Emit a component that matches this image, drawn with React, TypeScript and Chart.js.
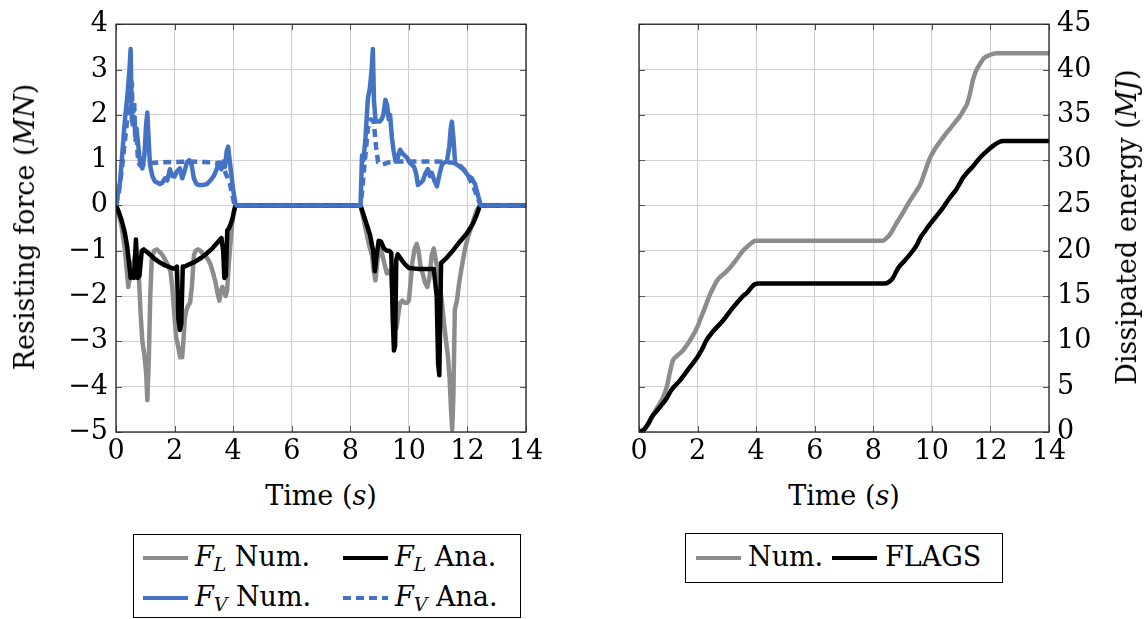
import React, { useEffect, useRef } from "react";
import { Chart, registerables } from "chart.js";

Chart.register(...registerables);

const FONT = "'DejaVu Serif', 'Liberation Serif', serif";
const FS = 27;
const GRAY = "#8c8c8c";
const BLUE = "#4472c4";
const BLACK = "#000000";

const xTicksTime = [0, 2, 4, 6, 8, 10, 12, 14];
const yTicksForce = [-5, -4, -3, -2, -1, 0, 1, 2, 3, 4];
const yTicksEnergy = [0, 5, 10, 15, 20, 25, 30, 35, 40, 45];

const fLNum: [number, number][] = [
  [0, 0], [0.1, -0.2], [0.2, -0.5], [0.3, -0.95], [0.37, -1.45], [0.42, -1.8], [0.48, -1.55],
  [0.54, -1.3], [0.6, -1.25], [0.65, -1.1], [0.72, -1.35], [0.78, -1.55], [0.84, -2.4], [0.9, -3.0],
  [0.97, -3.3], [1.03, -3.7], [1.07, -4.3], [1.12, -3.4], [1.17, -2.0], [1.22, -1.2], [1.3, -1.0],
  [1.39, -0.97], [1.48, -1.02], [1.57, -1.08], [1.68, -1.2], [1.78, -1.32], [1.86, -1.45], [1.92, -1.8],
  [1.98, -2.3], [2.05, -2.9], [2.12, -3.1], [2.19, -3.35], [2.26, -3.35], [2.3, -3.0], [2.35, -2.5],
  [2.41, -2.3], [2.47, -2.2], [2.53, -2.15], [2.59, -1.8], [2.66, -1.1], [2.72, -1.0], [2.8, -0.97],
  [2.88, -1.0], [2.97, -1.07], [3.06, -1.12], [3.15, -1.2], [3.24, -1.32], [3.32, -1.5], [3.4, -1.7],
  [3.47, -1.95], [3.53, -2.1], [3.58, -1.9], [3.63, -1.8], [3.68, -1.85], [3.74, -2.0], [3.79, -1.9],
  [3.85, -1.3], [3.9, -0.9], [3.96, -0.45], [4.02, -0.15], [4.08, 0],
  [8.35, 0], [8.45, -0.3], [8.55, -0.6], [8.65, -0.9], [8.74, -1.1], [8.8, -1.45], [8.86, -1.65],
  [8.93, -1.2], [9.0, -0.93], [9.08, -1.05], [9.17, -1.3], [9.25, -1.5], [9.33, -1.45], [9.4, -1.55],
  [9.46, -2.2], [9.52, -2.75], [9.58, -2.7], [9.64, -2.4], [9.7, -2.15], [9.78, -2.1], [9.86, -2.15],
  [9.94, -2.15], [10.0, -2.1], [10.06, -1.7], [10.12, -1.25], [10.2, -0.95], [10.27, -0.85],
  [10.33, -1.0], [10.4, -1.35], [10.47, -1.5], [10.55, -1.7], [10.63, -1.8], [10.7, -1.6], [10.78, -1.1],
  [10.85, -0.95], [10.92, -1.2], [11.0, -1.5], [11.07, -1.8], [11.14, -2.2], [11.2, -2.6], [11.27, -3.0],
  [11.33, -3.3], [11.39, -3.8], [11.44, -4.5], [11.48, -4.95], [11.52, -4.2], [11.57, -2.3], [11.64, -2.1],
  [11.72, -1.7], [11.82, -1.3], [11.92, -0.95], [12.02, -0.7], [12.12, -0.5], [12.22, -0.3], [12.32, -0.1],
  [12.4, -0.03], [12.46, 0], [14, 0],
];

const fLAna: [number, number][] = [
  [0, 0], [0.1, -0.15], [0.2, -0.35], [0.3, -0.6], [0.38, -0.9], [0.45, -1.3], [0.5, -1.6], [0.56, -1.45],
  [0.62, -1.6], [0.68, -0.75], [0.74, -1.6], [0.8, -1.55], [0.88, -1.0], [0.95, -0.97], [1.1, -1.05],
  [1.3, -1.17], [1.5, -1.26], [1.7, -1.33], [1.9, -1.38], [2.02, -1.4], [2.08, -1.35], [2.13, -2.5],
  [2.18, -2.75], [2.23, -2.6], [2.28, -1.35], [2.35, -1.35], [2.5, -1.3], [2.7, -1.24], [2.9, -1.16],
  [3.1, -1.06], [3.3, -0.94], [3.45, -0.83], [3.6, -0.72], [3.66, -1.0], [3.7, -1.6], [3.75, -1.55],
  [3.8, -0.55], [3.86, -0.5], [3.92, -0.4], [3.98, -0.28], [4.04, -0.1], [4.08, 0],
  [8.35, 0], [8.5, -0.3], [8.67, -0.64], [8.78, -1.0], [8.84, -1.45], [8.9, -1.1], [8.97, -0.78],
  [9.05, -0.8], [9.15, -0.95], [9.25, -1.0], [9.33, -1.0], [9.4, -1.05], [9.45, -2.5], [9.49, -3.2],
  [9.53, -3.1], [9.57, -1.2], [9.62, -1.08], [9.75, -1.2], [9.87, -1.3], [10.0, -1.38], [10.3, -1.4],
  [10.6, -1.4], [10.85, -1.4], [10.95, -2.0], [11.0, -3.5], [11.04, -3.75], [11.07, -2.5], [11.1, -1.27],
  [11.3, -1.15], [11.5, -1.0], [11.74, -0.8], [11.98, -0.62], [12.19, -0.4], [12.32, -0.2], [12.43, 0],
  [14, 0],
];

const fVNum: [number, number][] = [
  [0, 0], [0.14, 0.53], [0.3, 1.85], [0.4, 2.5], [0.46, 3.0], [0.5, 3.45], [0.54, 1.9], [0.58, 1.8],
  [0.62, 1.95], [0.66, 1.6], [0.7, 1.7], [0.74, 1.45], [0.78, 1.2], [0.83, 0.9], [0.9, 0.82], [0.97, 1.1],
  [1.03, 1.8], [1.07, 2.05], [1.11, 1.5], [1.16, 0.9], [1.24, 0.65], [1.33, 0.53], [1.42, 0.5], [1.5, 0.47],
  [1.58, 0.5], [1.67, 0.6], [1.75, 0.55], [1.84, 0.8], [1.92, 0.65], [2.0, 0.64], [2.08, 0.75], [2.18, 0.82],
  [2.26, 0.6], [2.34, 0.75], [2.42, 0.95], [2.5, 1.0], [2.58, 0.9], [2.66, 0.6], [2.74, 0.48], [2.82, 0.45],
  [2.95, 0.45], [3.1, 0.47], [3.22, 0.55], [3.34, 0.65], [3.44, 0.8], [3.52, 0.95], [3.6, 0.8], [3.66, 0.97],
  [3.72, 0.85], [3.78, 1.2], [3.83, 1.3], [3.88, 1.0], [3.94, 0.68], [4.0, 0.35], [4.08, 0.03], [4.12, 0],
  [8.35, 0], [8.4, 1.1], [8.45, 1.0], [8.52, 1.5], [8.6, 2.35], [8.67, 2.6], [8.73, 3.0], [8.77, 3.45],
  [8.81, 2.3], [8.86, 1.9], [8.92, 1.85], [9.0, 1.85], [9.07, 1.9], [9.13, 2.0], [9.2, 2.33], [9.26, 2.2],
  [9.31, 1.9], [9.36, 2.0], [9.42, 1.5], [9.48, 1.2], [9.55, 0.97], [9.62, 1.05], [9.7, 1.23], [9.78, 1.15],
  [9.86, 1.1], [9.94, 1.05], [10.02, 0.95], [10.1, 0.9], [10.18, 0.85], [10.25, 0.7], [10.31, 0.45],
  [10.4, 0.5], [10.48, 0.55], [10.56, 0.7], [10.65, 0.8], [10.72, 0.65], [10.78, 0.72], [10.87, 0.55],
  [10.96, 0.42], [11.05, 0.7], [11.13, 0.9], [11.22, 0.95], [11.3, 0.97], [11.38, 1.3], [11.43, 1.7],
  [11.47, 1.85], [11.52, 1.5], [11.58, 0.93], [11.64, 0.9], [11.75, 0.85], [11.85, 0.8], [11.95, 0.72],
  [12.05, 0.64], [12.15, 0.6], [12.26, 0.47], [12.35, 0.25], [12.44, 0.03], [12.48, 0], [14, 0],
];

const fVAna: [number, number][] = [
  [0, 0], [0.1, 0.3], [0.2, 0.8], [0.3, 1.4], [0.4, 2.0], [0.46, 2.5], [0.5, 2.1], [0.54, 2.7],
  [0.58, 1.7], [0.62, 2.3], [0.66, 1.4], [0.7, 1.6], [0.75, 1.0], [0.8, 0.9], [0.9, 0.9], [1.0, 0.92],
  [1.5, 0.95], [2.0, 0.96], [2.5, 0.97], [3.0, 0.96], [3.3, 0.95], [3.5, 0.92], [3.6, 0.87],
  [3.7, 0.77], [3.8, 0.63], [3.9, 0.45], [3.97, 0.25], [4.05, 0], [8.35, 0],
  [8.4, 0.3], [8.5, 1.0], [8.6, 1.7], [8.7, 1.9], [8.8, 1.85], [8.88, 1.3], [8.95, 0.95], [9.1, 0.9],
  [9.3, 0.95], [9.6, 0.97], [10.0, 0.97], [10.5, 0.97], [11.0, 0.97], [11.4, 0.95], [11.6, 0.93],
  [11.75, 0.88], [11.9, 0.78], [12.05, 0.62], [12.2, 0.42], [12.32, 0.22], [12.45, 0], [14, 0],
];

const energyNum: [number, number][] = [
  [0, 0], [0.2, 0.4], [0.37, 1.3], [0.55, 2.3], [0.7, 3.1], [0.82, 3.8], [0.95, 5.0], [1.05, 6.5],
  [1.16, 7.9], [1.3, 8.4], [1.5, 9.0], [1.7, 9.9], [1.98, 11.5], [2.1, 12.5], [2.25, 13.7], [2.4, 15.0],
  [2.55, 16.0], [2.66, 16.7], [2.8, 17.2], [2.95, 17.6], [3.1, 18.1], [3.3, 18.9], [3.55, 20.0],
  [3.75, 20.6], [3.9, 21.0], [3.98, 21.1], [4.05, 21.1], [8.33, 21.1], [8.45, 21.4], [8.57, 21.8],
  [8.75, 22.8], [8.9, 23.6], [9.05, 24.4], [9.25, 25.5], [9.45, 26.5], [9.6, 27.3], [9.75, 28.6],
  [9.93, 30.2], [10.1, 31.2], [10.27, 32.0], [10.45, 32.8], [10.6, 33.4], [10.8, 34.2], [10.95, 34.8],
  [11.1, 35.6], [11.2, 36.2], [11.3, 37.3], [11.4, 38.8], [11.5, 39.8], [11.64, 40.6], [11.8, 41.3],
  [11.98, 41.6], [12.2, 41.8], [12.43, 41.8], [14, 41.8],
];

const energyFlags: [number, number][] = [
  [0, 0], [0.15, 0.2], [0.3, 0.8], [0.45, 1.7], [0.6, 2.3], [0.7, 2.7], [0.85, 3.3], [0.94, 3.7],
  [1.1, 4.6], [1.4, 5.7], [1.7, 7.0], [1.98, 8.2], [2.15, 9.1], [2.3, 10.1], [2.5, 11.0], [2.87, 12.3],
  [3.2, 13.7], [3.55, 15.0], [3.7, 15.4], [3.85, 16.0], [3.95, 16.3], [4.1, 16.4], [8.4, 16.4],
  [8.55, 16.6], [8.67, 17.0], [8.8, 17.8], [8.9, 18.3], [9.1, 19.0], [9.35, 20.0], [9.5, 20.7],
  [9.6, 21.4], [9.75, 22.1], [9.93, 22.9], [10.15, 23.8], [10.37, 24.7], [10.6, 25.8], [10.84, 26.8],
  [10.95, 27.4], [11.05, 28.0], [11.2, 28.6], [11.4, 29.3], [11.65, 30.3], [11.88, 31.0], [12.1, 31.6],
  [12.3, 32.0], [12.43, 32.1], [14, 32.1],
];

const toPts = (arr: [number, number][]) => arr.map(([x, y]) => ({ x, y }));
const minus = (v: any) => String(v).replace("-", "\u2212");

const framePlugin = {
  id: "framePlugin",
  afterDatasetsDraw(chart: any) {
    const { ctx, chartArea: a, scales } = chart;
    ctx.save();
    ctx.strokeStyle = "#555";
    ctx.lineWidth = 1;
    const xs = scales.x;
    const ys = scales.y;
    xs.ticks.forEach((t: any) => {
      const px = Math.round(xs.getPixelForValue(t.value)) + 0.5;
      ctx.beginPath();
      ctx.moveTo(px, a.bottom);
      ctx.lineTo(px, a.bottom - 6);
      ctx.moveTo(px, a.top);
      ctx.lineTo(px, a.top + 6);
      ctx.stroke();
    });
    ys.ticks.forEach((t: any) => {
      const py = Math.round(ys.getPixelForValue(t.value)) + 0.5;
      ctx.beginPath();
      ctx.moveTo(a.left, py);
      ctx.lineTo(a.left + 6, py);
      ctx.moveTo(a.right, py);
      ctx.lineTo(a.right - 6, py);
      ctx.stroke();
    });
    ctx.strokeStyle = "#222";
    ctx.lineWidth = 1.3;
    ctx.strokeRect(a.left, a.top, a.right - a.left, a.bottom - a.top);
    ctx.restore();
  },
};

const tickFont = { family: FONT, size: FS };
const gridOpts = { color: "#cfcfcf", lineWidth: 1, drawTicks: false };

function ForceChart() {
  const ref = useRef<HTMLCanvasElement | null>(null);
  useEffect(() => {
    if (!ref.current) return;
    const line = (data: [number, number][], color: string, order: number, dash: number[] = []) => ({
      data: toPts(data),
      borderColor: color,
      backgroundColor: color,
      borderWidth: 4.5,
      borderDash: dash,
      pointRadius: 0,
      tension: 0,
      fill: false,
      order,
      borderJoinStyle: "round" as const,
    });
    const chart = new Chart(ref.current, {
      type: "line",
      data: {
        datasets: [
          line(fLNum, GRAY, 4),
          line(fLAna, BLACK, 3),
          line(fVNum, BLUE, 2),
          line(fVAna, BLUE, 1, [8, 5]),
        ],
      },
      options: {
        responsive: false,
        animation: false,
        devicePixelRatio: 1,
        layout: { padding: { left: 0, top: 22, right: 34, bottom: 0 } },
        plugins: { legend: { display: false }, tooltip: { enabled: false } },
        scales: {
          x: {
            type: "linear",
            min: 0,
            max: 14,
            afterBuildTicks: (s: any) => { s.ticks = xTicksTime.map((v) => ({ value: v })); },
            afterFit: (s: any) => { s.height = 38; },
            grid: gridOpts,
            border: { display: false },
            ticks: { font: tickFont, color: "#000", padding: 4, maxRotation: 0, callback: minus },
          },
          y: {
            type: "linear",
            min: -5,
            max: 4,
            afterBuildTicks: (s: any) => { s.ticks = yTicksForce.map((v) => ({ value: v })); },
            afterFit: (s: any) => { s.width = 116; },
            grid: gridOpts,
            border: { display: false },
            ticks: { font: tickFont, color: "#000", padding: 8, callback: minus },
          },
        },
      },
      plugins: [framePlugin],
    });
    return () => chart.destroy();
  }, []);
  return <canvas ref={ref} width={560} height={470} style={{ position: "absolute", left: 0, top: 0 }} />;
}

function EnergyChart() {
  const ref = useRef<HTMLCanvasElement | null>(null);
  useEffect(() => {
    if (!ref.current) return;
    const line = (data: [number, number][], color: string, order: number) => ({
      data: toPts(data),
      borderColor: color,
      backgroundColor: color,
      borderWidth: 4.5,
      pointRadius: 0,
      cubicInterpolationMode: "monotone" as const,
      fill: false,
      order,
    });
    const chart = new Chart(ref.current, {
      type: "line",
      data: { datasets: [line(energyNum, GRAY, 2), line(energyFlags, BLACK, 1)] },
      options: {
        responsive: false,
        animation: false,
        devicePixelRatio: 1,
        layout: { padding: { left: 59, top: 22, right: 0, bottom: 0 } },
        plugins: { legend: { display: false }, tooltip: { enabled: false } },
        scales: {
          x: {
            type: "linear",
            min: 0,
            max: 14,
            afterBuildTicks: (s: any) => { s.ticks = xTicksTime.map((v) => ({ value: v })); },
            afterFit: (s: any) => { s.height = 38; },
            grid: gridOpts,
            border: { display: false },
            ticks: { font: tickFont, color: "#000", padding: 4, maxRotation: 0 },
          },
          y: {
            type: "linear",
            position: "right",
            min: 0,
            max: 45,
            afterBuildTicks: (s: any) => { s.ticks = yTicksEnergy.map((v) => ({ value: v })); },
            afterFit: (s: any) => { s.width = 99; },
            grid: gridOpts,
            border: { display: false },
            ticks: { font: tickFont, color: "#000", padding: 8 },
          },
        },
      },
      plugins: [framePlugin],
    });
    return () => chart.destroy();
  }, []);
  return <canvas ref={ref} width={568} height={470} style={{ position: "absolute", left: 580, top: 0 }} />;
}

const txt: React.CSSProperties = {
  position: "absolute",
  fontFamily: FONT,
  fontSize: FS,
  lineHeight: "30px",
  whiteSpace: "nowrap",
  color: "#000",
};

const subStyle: React.CSSProperties = { fontSize: "0.7em", verticalAlign: "-0.25em", lineHeight: 1, fontStyle: "italic" };

function Sym({ s }: { s: string }) {
  return (
    <span>
      <i>F</i>
      <sub style={subStyle}>{s}</sub>
    </span>
  );
}

function LegLine({ x, y, color, dashed }: { x: number; y: number; color: string; dashed?: boolean }) {
  return (
    <div
      style={{
        position: "absolute",
        left: x,
        top: y - 2,
        width: 45,
        height: 4,
        background: dashed
          ? `repeating-linear-gradient(to right, ${color} 0px, ${color} 8px, transparent 8px, transparent 13px)`
          : color,
      }}
    />
  );
}

function VTitle({ cx, cy, children }: { cx: number; cy: number; children: React.ReactNode }) {
  return (
    <div style={{ position: "absolute", left: cx, top: cy, width: 0, height: 0 }}>
      <div style={{ ...txt, left: 0, top: 0, transform: "translate(-50%, -50%) rotate(-90deg)" }}>{children}</div>
    </div>
  );
}

export default function App() {
  return (
    <div style={{ position: "fixed", left: 0, top: 0, width: 1148, height: 619, background: "#fff", overflow: "hidden" }}>
      <ForceChart />
      <EnergyChart />

      <div style={{ ...txt, left: 321, top: 481, transform: "translateX(-50%)" }}>
        Time (<i>s</i>)
      </div>
      <div style={{ ...txt, left: 844, top: 481, transform: "translateX(-50%)" }}>
        Time (<i>s</i>)
      </div>
      <VTitle cx={25} cy={227}>
        Resisting force (<i>MN</i>)
      </VTitle>
      <VTitle cx={1127} cy={227}>
        Dissipated energy (<i>MJ</i>)
      </VTitle>

      <div style={{ position: "absolute", left: 133, top: 534, width: 388, height: 84, border: "1px solid #000", boxSizing: "border-box" }} />
      <LegLine x={143} y={558} color={GRAY} />
      <div style={{ ...txt, left: 195, top: 542 }}>
        <Sym s="L" /> Num.
      </div>
      <LegLine x={343} y={558} color={BLACK} />
      <div style={{ ...txt, left: 395, top: 542 }}>
        <Sym s="L" /> Ana.
      </div>
      <LegLine x={143} y={598} color={BLUE} />
      <div style={{ ...txt, left: 195, top: 582 }}>
        <Sym s="V" /> Num.
      </div>
      <LegLine x={343} y={598} color={BLUE} dashed />
      <div style={{ ...txt, left: 395, top: 582 }}>
        <Sym s="V" /> Ana.
      </div>

      <div style={{ position: "absolute", left: 685, top: 533, width: 318, height: 50, border: "1px solid #000", boxSizing: "border-box" }} />
      <LegLine x={696} y={558} color={GRAY} />
      <div style={{ ...txt, left: 748, top: 542 }}>Num.</div>
      <LegLine x={832} y={558} color={BLACK} />
      <div style={{ ...txt, left: 885, top: 542 }}>FLAGS</div>
    </div>
  );
}
